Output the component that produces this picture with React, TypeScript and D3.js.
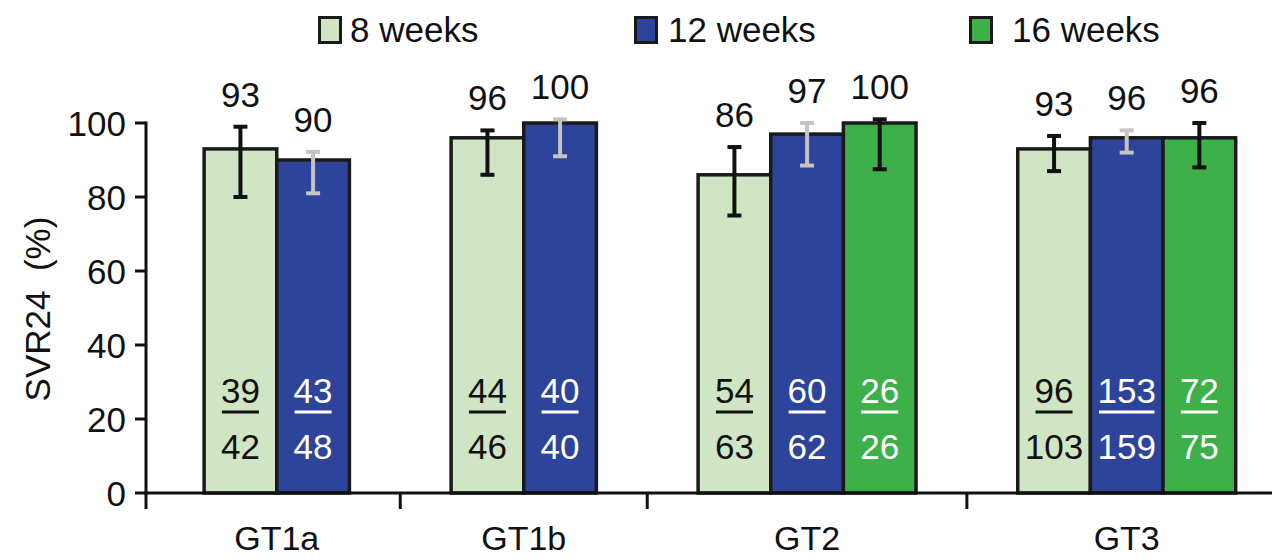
import React from 'react';
import * as d3 from 'd3';

// genotype groups and the durations tested in each
const genotypes = ['GT1a', 'GT1b', 'GT2', 'GT3'];
const durations = ['8 weeks', '12 weeks', '16 weeks'];
const groupDurations = [
  ['8 weeks', '12 weeks'],
  ['8 weeks', '12 weeks'],
  ['8 weeks', '12 weeks', '16 weeks'],
  ['8 weeks', '12 weeks', '16 weeks'],
];
// SVR24 %, per group, per duration
const svrValues = [
  [93, 90],
  [96, 100],
  [86, 97, 100],
  [93, 96, 96],
];
// 95% CI lower/upper
const ciLow = [
  [80, 81],
  [86, 91],
  [75, 88.5, 87.5],
  [87, 92, 88],
];
const ciHigh = [
  [99, 92.2],
  [98, 101],
  [93.5, 100, 101],
  [96.5, 98, 100],
];
const numerators = [
  [39, 43],
  [44, 40],
  [54, 60, 26],
  [96, 153, 72],
];
const denominators = [
  [42, 48],
  [46, 40],
  [63, 62, 26],
  [103, 159, 75],
];
const yTicks = [0, 20, 40, 60, 80, 100];

const W = 1272;
const H = 559;
const FONT = '"Liberation Sans", Arial, Helvetica, sans-serif';

const fill = d3.scaleOrdinal<string, string>().domain(durations).range(['#cfe5c3', '#2e449a', '#3db04a']);
const textCol = d3.scaleOrdinal<string, string>().domain(durations).range(['#111', '#fff', '#fff']);
const errCol = d3.scaleOrdinal<string, string>().domain(durations).range(['#111', '#c4c4c4', '#111']);

// layout in "bar units"
const LEFT_PAD = 0.8;
const GAP = 1.4;
const RIGHT_PAD = 0.5;
const groupStart: number[] = [];
let acc = LEFT_PAD;
groupDurations.forEach((g, i) => {
  groupStart.push(acc);
  acc += g.length + (i < groupDurations.length - 1 ? GAP : 0);
});
const totalUnits = acc + RIGHT_PAD;

export default function App() {
  const axisX = 146;
  const x = d3.scaleLinear().domain([0, totalUnits]).range([axisX, W]);
  const y = d3.scaleLinear().domain([0, 100]).range([493, 123]);
  const bw = x(1) - x(0);
  const sepTicks = [0, ...groupStart.slice(1).map((s) => s - GAP / 2)];

  return (
    <svg width={W} height={H} style={{ position: 'absolute', left: 0, top: 0, background: '#fff' }} fontFamily={FONT}>
      {/* legend */}
      {[
        { d: '8 weeks', sx: 318, tx: 350 },
        { d: '12 weeks', sx: 634, tx: 668 },
        { d: '16 weeks', sx: 969, tx: 1012 },
      ].map((l) => (
        <g key={l.d}>
          <rect x={l.sx + 1.5} y={17.5} width={21} height={25} fill={fill(l.d)} stroke="#1a1a1a" strokeWidth={3} />
          <text x={l.tx} y={42} fontSize={35} fill="#111">{l.d}</text>
        </g>
      ))}

      {/* y axis */}
      <line x1={axisX} x2={axisX} y1={y(100) - 1.5} y2={y(0) + 1.5} stroke="#111" strokeWidth={3} />
      {yTicks.map((t) => (
        <g key={t}>
          <line x1={axisX - 11} x2={axisX} y1={y(t)} y2={y(t)} stroke="#111" strokeWidth={3} />
          <text x={126} y={y(t)} dy="0.36em" textAnchor="end" fontSize={35} fill="#111">{t}</text>
        </g>
      ))}
      <text
        transform={`translate(50,${309}) rotate(-90)`}
        textAnchor="middle"
        fontSize={35}
        fill="#111"
        style={{ whiteSpace: 'pre' }}
      >
        {'SVR24  (%)'}
      </text>

      {/* bars */}
      {genotypes.map((gt, gi) => (
        <g key={gt}>
          {groupDurations[gi].map((d, di) => {
            const x0 = x(groupStart[gi] + di);
            const cx = x0 + bw / 2;
            const v = svrValues[gi][di];
            const num = String(numerators[gi][di]);
            const ulw = num.length * 18.5;
            return (
              <g key={d}>
                <rect x={x0} y={y(v)} width={bw} height={y(0) - y(v)} fill={fill(d)} stroke="#1a1a1a" strokeWidth={3.5} />
                <g stroke={errCol(d)} strokeWidth={4}>
                  <line x1={cx} x2={cx} y1={y(ciLow[gi][di])} y2={y(ciHigh[gi][di])} />
                  <line x1={cx - 7} x2={cx + 7} y1={y(ciLow[gi][di])} y2={y(ciLow[gi][di])} />
                  <line x1={cx - 7} x2={cx + 7} y1={y(ciHigh[gi][di])} y2={y(ciHigh[gi][di])} />
                </g>
                <text x={cx} y={y(ciHigh[gi][di]) - 20} textAnchor="middle" fontSize={35} fill="#111">{v}</text>
                <text x={cx} y={y(24.3)} textAnchor="middle" fontSize={35} fill={textCol(d)}>{num}</text>
                <line x1={cx - ulw / 2} x2={cx + ulw / 2} y1={y(21.9)} y2={y(21.9)} stroke={textCol(d)} strokeWidth={3} />
                <text x={cx} y={y(9.2)} textAnchor="middle" fontSize={35} fill={textCol(d)}>{denominators[gi][di]}</text>
              </g>
            );
          })}
          <text
            x={x(groupStart[gi] + groupDurations[gi].length / 2)}
            y={550}
            textAnchor="middle"
            fontSize={34}
            fill="#111"
          >
            {gt}
          </text>
        </g>
      ))}

      {/* x axis */}
      <line x1={axisX - 1.5} x2={W} y1={y(0)} y2={y(0)} stroke="#111" strokeWidth={3} />
      {sepTicks.map((s, i) => (
        <line key={i} x1={x(s)} x2={x(s)} y1={y(0)} y2={y(0) + 16} stroke="#111" strokeWidth={3} />
      ))}
    </svg>
  );
}
